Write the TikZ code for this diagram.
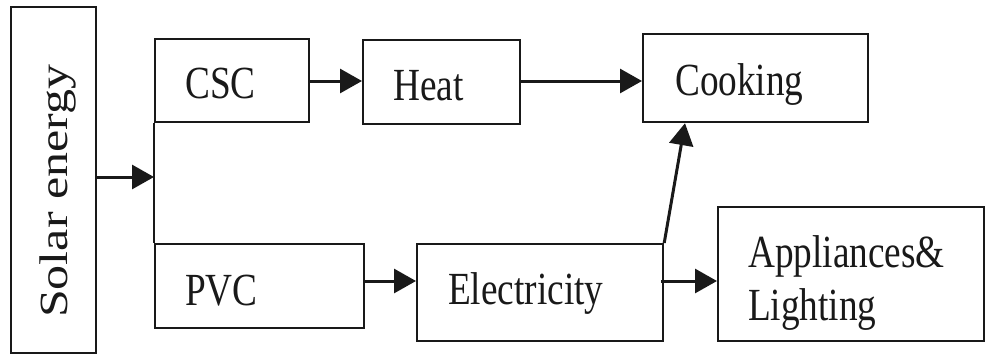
\documentclass[tikz,border=0pt]{standalone}
\usepackage{fontspec}
\setmainfont[FakeStretch=0.81]{Liberation Serif}
\newfontfamily\solarfont[FakeStretch=1.25]{Liberation Serif}
\usetikzlibrary{arrows.meta}
\begin{document}
\begin{tikzpicture}[x=1pt,y=-1pt,
  box/.style={draw=black!90, line width=2.2pt, inner sep=0pt, anchor=north west},
  flow/.style={draw=black!90, line width=3pt, -{Triangle[length=22pt,width=24pt]}},
  lbl/.style={anchor=base west, inner sep=0pt, text=black!90, font=\fontsize{46}{53}\selectfont}]
\useasboundingbox[fill=white] (0,0) rectangle (985,354);
% boxes
\node[box, minimum width=85pt,  minimum height=346pt] (solar)   at (10,6)   {};
\node[box, minimum width=154pt, minimum height=83pt]  (csc)     at (154,38) {};
\node[box, minimum width=157pt, minimum height=84pt]  (heat)    at (362,39) {};
\node[box, minimum width=225pt, minimum height=88pt]  (cooking) at (642,33) {};
\node[box, minimum width=209pt, minimum height=84pt]  (pvc)     at (154,243) {};
\node[box, minimum width=246pt, minimum height=97pt]  (elec)    at (416,243) {};
\node[box, minimum width=266pt, minimum height=134pt] (appl)    at (717,206) {};
% labels
\node[lbl] (tcsc)   at (185,98)  {CSC};
\node[lbl] (theat)  at (393,100) {Heat};
\node[lbl] (tcook)  at (675,95)  {Cooking};
\node[lbl] (tpvc)   at (185,305) {PVC};
\node[lbl] (telec)  at (448,304) {Electricity};
\node[lbl] (tapp)   at (748,267) {Appliances\&};
\node[lbl] (tlight) at (748,320) {Lighting};
\node[rotate=90, anchor=base west, inner sep=0pt, text=black!90,
      font=\solarfont\fontsize{40}{42}\selectfont] (tsolar) at (67,318) {Solar energy};
% connectors
\coordinate (sy) at (0,177);
\coordinate (ty) at (0,81);
\coordinate (by) at (0,281);
\coordinate (ctip) at ([xshift=43pt]cooking.south west);
\draw[flow] (solar.east |- sy) -- (csc.west |- sy);
\draw[draw=black!90, line width=2.2pt] (csc.south west) -- (pvc.north west);
\draw[flow] (csc.east |- ty) -- (heat.west |- ty);
\draw[flow] (heat.east |- ty) -- (cooking.west |- ty);
\draw[flow] (pvc.east |- by) -- (elec.west |- by);
\draw[flow] ([xshift=-3pt]elec.east |- by) -- (appl.west |- by);
\draw[flow] (elec.north east) -- (ctip);
\end{tikzpicture}
\end{document}
